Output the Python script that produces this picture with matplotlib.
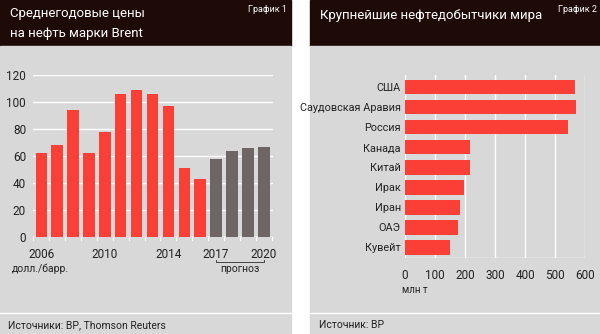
import matplotlib
matplotlib.use("Agg")
import matplotlib.pyplot as plt
from matplotlib.patches import Rectangle
from matplotlib.lines import Line2D

plt.rcParams['font.family'] = ['Roboto', 'DejaVu Sans']

# chart 1: Brent average annual price
years = list(range(2006, 2021))
prices = [62, 68, 94, 62, 78, 106, 109, 106, 97, 51, 43, 58, 64, 66, 67]
forecast_from = 2017
year_ticks = [2006, 2010, 2014, 2017, 2020]

# chart 2: largest oil producers
countries = ['США', 'Саудовская Аравия', 'Россия', 'Канада', 'Китай',
             'Ирак', 'Иран', 'ОАЭ', 'Кувейт']
output = [568, 570, 542, 218, 217, 198, 184, 178, 151]

RED = '#fa4036'
GREY = '#6d6665'
BG = '#d8d8d8'
DARK = '#1e0a07'
TXT = '#222222'

W, H = 600, 334
fig = plt.figure(figsize=(6, 3.34), dpi=100)
fig.patch.set_facecolor('white')


def px_axes(x0, y0, x1, y1):
    # pixel box (top-left origin) -> figure axes
    return fig.add_axes([x0 / W, 1 - y1 / H, (x1 - x0) / W, (y1 - y0) / H])


def panel(x0, x1):
    fig.patches.append(Rectangle((x0 / W, 1 - 46 / H), (x1 - x0) / W, 46 / H,
                                 transform=fig.transFigure, color=DARK, zorder=-10))
    fig.patches.append(Rectangle((x0 / W, 0), (x1 - x0) / W, 1 - 46 / H,
                                 transform=fig.transFigure, color=BG, zorder=-10))
    fig.lines.append(Line2D([x0 / W, x1 / W], [1 - 313 / H] * 2,
                            transform=fig.transFigure, color='white', lw=1, zorder=-5))


panel(0, 291)
panel(310, 600)

# headers
fig.text(10 / W, 1 - 14 / H, 'Среднегодовые цены', color='white', fontsize=9.5, va='center')
fig.text(10 / W, 1 - 33 / H, 'на нефть марки Brent', color='white', fontsize=9.5, va='center')
fig.text(287 / W, 1 - 9 / H, 'График 1', color='white', fontsize=6.5, va='center', ha='right')
fig.text(320 / W, 1 - 15 / H, 'Крупнейшие нефтедобытчики мира', color='white', fontsize=9.5, va='center')
fig.text(597 / W, 1 - 9 / H, 'График 2', color='white', fontsize=6.5, va='center', ha='right')

# footers
fig.text(8 / W, 1 - 325 / H, 'Источники: BP, Thomson Reuters', color=TXT, fontsize=7.5, va='center')
fig.text(319 / W, 1 - 325 / H, 'Источник: BP', color=TXT, fontsize=7.5, va='center')

# left chart
ax1 = px_axes(33, 75, 273, 237)
ax1.set_facecolor('none')
idx = list(range(len(years)))
colors = [GREY if y >= forecast_from else RED for y in years]
ax1.bar(idx, prices, width=0.72, color=colors, zorder=2)
ax1.set_ylim(0, 120)
ax1.set_xlim(-0.52, 14.58)
ax1.set_yticks(range(0, 121, 20))
ax1.grid(axis='y', color='white', lw=1, zorder=1)
ax1.set_xticks([years.index(y) for y in year_ticks])
ax1.set_xticklabels([str(y) for y in year_ticks])
ax1.tick_params(axis='both', length=0, labelsize=8.5, colors=TXT)
ax1.tick_params(axis='x', pad=8)
ax1.tick_params(axis='y', pad=5)
for s in ax1.spines.values():
    s.set_visible(False)
ax1.axhline(0, color='white', lw=1, zorder=1)
# small ticks between bars
for i in range(len(years) + 1):
    ax1.plot([i - 0.5, i - 0.5], [0, -0.02], color='white', lw=0.8,
             transform=ax1.get_xaxis_transform(), clip_on=False)
fig.text(12 / W, 1 - 269 / H, 'долл./барр.', fontsize=7.5, color=TXT, va='center')

# forecast bracket
i0 = years.index(forecast_from)
i1 = len(years) - 1
tr = ax1.get_xaxis_transform()
ax1.plot([i0, i0, i1, i1], [-0.14, -0.155, -0.155, -0.14], color='#444444', lw=0.7,
         transform=tr, clip_on=False)
ax1.text((i0 + i1) / 2, -0.2, 'прогноз', transform=tr, ha='center', va='center',
         fontsize=7.5, color=TXT)

# right chart
ax2 = px_axes(405, 75, 585, 258)
ax2.set_facecolor('none')
pos = list(range(len(countries)))
ax2.barh(pos, output, height=0.73, color=RED, zorder=2)
ax2.set_xlim(0, 600)
ax2.set_ylim(8.53, -0.6)
ax2.set_yticks(pos)
ax2.set_yticklabels(countries)
ax2.set_xticks(range(0, 601, 100))
ax2.grid(axis='x', color='white', lw=1, zorder=1)
ax2.tick_params(axis='x', length=0, labelsize=8.5, colors=TXT, pad=8)
ax2.tick_params(axis='y', length=0, labelsize=7.8, colors=TXT, pad=3)
for s in ax2.spines.values():
    s.set_visible(False)
ax2.axhline(8.53, color='white', lw=1, zorder=1)
fig.text(402 / W, 1 - 290 / H, 'млн т', fontsize=7, color=TXT, va='center')

fig.savefig('out.png', dpi=100, facecolor='white')
